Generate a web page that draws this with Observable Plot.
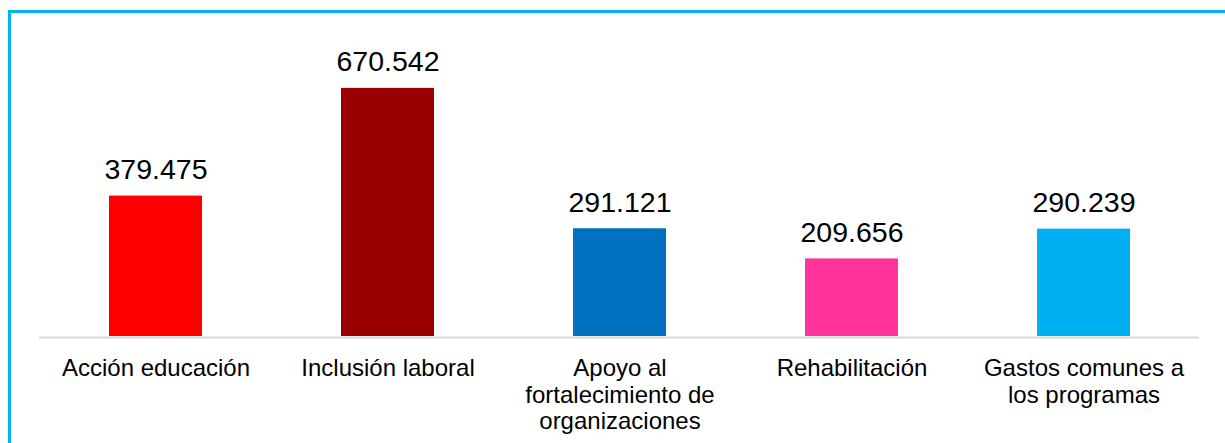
<!DOCTYPE html>
<html>
<head>
<meta charset="utf-8">
<script src="https://cdn.jsdelivr.net/npm/d3@7"></script>
<script src="https://cdn.jsdelivr.net/npm/@observablehq/plot@0.6"></script>
<style>
  html, body { margin: 0; padding: 0; background: #fff; overflow: hidden; }
  body { width: 1225px; height: 443px; position: relative; font-family: "Liberation Sans", Arial, sans-serif; }
  #topline { position: absolute; left: 8px; top: 10px; width: 1217px; height: 3px; background: #00B4F2; }
  #leftline { position: absolute; left: 8px; top: 10px; width: 3px; height: 433px; background: #00B4F2; }
  #chart { position: absolute; left: 0; top: 0; }
</style>
</head>
<body>
<div id="topline"></div>
<div id="leftline"></div>
<div id="chart"></div>
<script>
const categories = [
  "Acción educación",
  "Inclusión laboral",
  "Apoyo al\nfortalecimiento de\norganizaciones",
  "Rehabilitación",
  "Gastos comunes a\nlos programas"
];
const values = [379.475, 670.542, 291.121, 209.656, 290.239];
const valueLabels = ["379.475", "670.542", "291.121", "209.656", "290.239"];
const colors = ["#FF0000", "#990000", "#0070C0", "#FF3399", "#00B0F0"];

const data = categories.map((c, i) => ({cat: c, value: values[i], label: valueLabels[i], color: colors[i]}));

const chart = Plot.plot({
  width: 1225,
  height: 443,
  marginLeft: 39,
  marginRight: 26,
  marginTop: 40,
  marginBottom: 107,
  style: {fontFamily: "'Liberation Sans', Arial, sans-serif", background: "transparent", color: "#000", overflow: "hidden"},
  x: {domain: categories, paddingInner: 0.6, paddingOuter: 0.3, label: null},
  y: {domain: [0, 800], axis: null},
  marks: [
    Plot.barY(data, {x: "cat", y: "value", fill: "color"}),
    Plot.ruleY([0], {stroke: "#D9D9D9", strokeWidth: 2, dy: 1}),
    Plot.text(data, {x: "cat", y: "value", text: "label", lineAnchor: "bottom", dy: -17, fontSize: 28.5, fill: "#000"}),
    Plot.axisX({tickSize: 0, tickPadding: 21, fontSize: 24, lineHeight: 1.1, fill: "#000", label: null, textOverflow: null})
  ]
});
document.getElementById("chart").appendChild(chart);
</script>
</body>
</html>
